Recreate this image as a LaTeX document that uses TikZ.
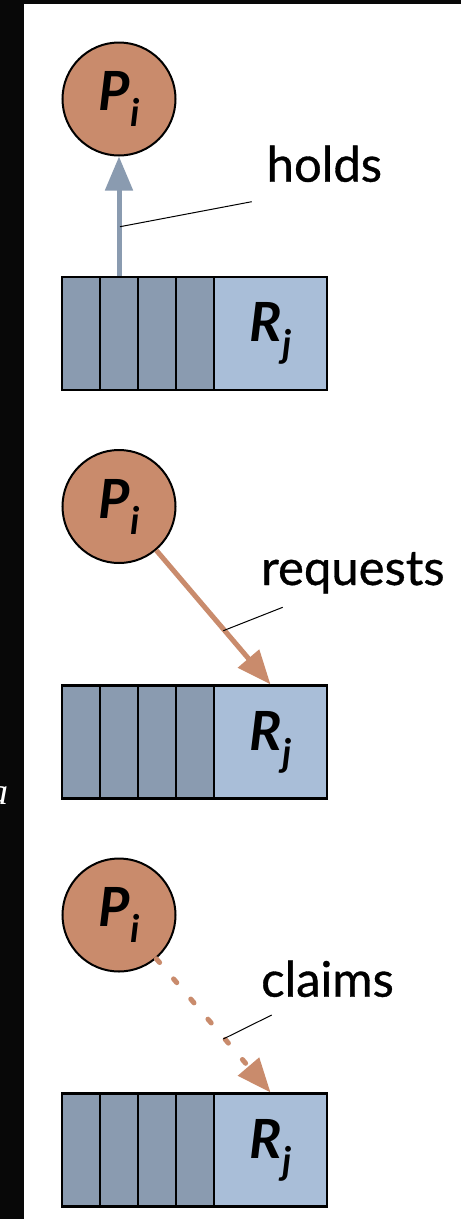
\documentclass[tikz,border=0pt]{standalone}
\usepackage{fontspec}
\setmainfont{Lato}
\newfontfamily\lblfont[FakeBold=0.7]{Lato}
\newfontfamily\cutfont{Liberation Serif}
\usetikzlibrary{arrows.meta}
\definecolor{procfill}{HTML}{C98B6C}
\definecolor{cellfill}{HTML}{8A9BB0}
\definecolor{resfill}{HTML}{A9BED8}
\newcommand{\PI}{{\fontsize{54}{54}\selectfont\bfseries\itshape P\kern0pt\raisebox{-16pt}{\fontsize{38}{38}\selectfont i}}}
\newcommand{\RJ}{{\fontsize{54}{54}\selectfont\bfseries\itshape R\kern1pt\raisebox{-16pt}{\fontsize{38}{38}\selectfont j}}}
\begin{document}
\begin{tikzpicture}[x=1pt,y=-1pt,
  procnode/.style={circle,draw=black,line width=2pt,fill=procfill,minimum size=113pt,inner sep=0pt},
  cellbox/.style={draw=black,line width=2.2pt,fill=cellfill,minimum width=38.2pt,minimum height=113pt,inner sep=0pt},
  resbox/.style={draw=black,line width=2.2pt,fill=resfill,minimum width=112.5pt,minimum height=113pt,inner sep=0pt},
  lbl/.style={font=\fontsize{49}{49}\selectfont\lblfont,inner sep=0pt,anchor=base west},
  leader/.style={draw=black,line width=1pt},
  holdarrow/.style={draw=cellfill,line width=5pt,-{Triangle[length=34pt,width=27pt]}},
  reqarrow/.style={draw=procfill,line width=5pt,-{Triangle[length=34pt,width=27pt]}},
  claimarrow/.style={draw=procfill,line width=5pt,line cap=round,dash pattern=on 5pt off 21.5pt,-{Triangle[length=34pt,width=27pt]}}
]
\useasboundingbox (0,0) rectangle (461,1219);
\fill[white] (0,0) rectangle (461,1219);
\fill[black!97] (0,0) rectangle (24,1219);
\fill[black!97] (0,0) rectangle (461,3.5);
\node[text=white,font=\fontsize{38}{38}\selectfont\cutfont\itshape,anchor=base east,inner sep=0pt] (cut) at (8.5,804) {a};

% ---- holds ----
\node[procnode] (p1) at (119,99) {\PI};
\node[cellbox] (c11) at (80.8,333.3) {};
\node[cellbox] (c12) at (119,333.3) {};
\node[cellbox] (c13) at (157.2,333.3) {};
\node[cellbox] (c14) at (195.4,333.3) {};
\node[resbox] (r1) at (270.5,333.3) {\RJ};
\draw[holdarrow] (c12.north) -- (p1);
\node[lbl] (l1) at (266.5,181.7) {holds};
\coordinate (l1a) at (251.7,201.7);
\coordinate (l1b) at (120,226.7);
\draw[leader] (l1a) -- (l1b);

% ---- requests ----
\node[procnode] (p2) at (119,506.5) {\PI};
\node[cellbox] (c21) at (80.8,742) {};
\node[cellbox] (c22) at (119,742) {};
\node[cellbox] (c23) at (157.2,742) {};
\node[cellbox] (c24) at (195.4,742) {};
\node[resbox] (r2) at (270.5,742) {\RJ};
\draw[reqarrow] (p2) -- (r2.north);
\node[lbl] (l2) at (261,585) {requests};
\coordinate (l2a) at (282.7,607.3);
\coordinate (l2b) at (223.3,630.7);
\draw[leader] (l2a) -- (l2b);

% ---- claims ----
\node[procnode] (p3) at (119,915) {\PI};
\node[cellbox] (c31) at (80.8,1150) {};
\node[cellbox] (c32) at (119,1150) {};
\node[cellbox] (c33) at (157.2,1150) {};
\node[cellbox] (c34) at (195.4,1150) {};
\node[resbox] (r3) at (270.5,1150) {\RJ};
\draw[claimarrow] (p3) -- (r3.north);
\node[lbl] (l3) at (261,996.7) {claims};
\coordinate (l3a) at (271.7,1015);
\coordinate (l3b) at (223.3,1039);
\draw[leader] (l3a) -- (l3b);
\end{tikzpicture}
\end{document}
